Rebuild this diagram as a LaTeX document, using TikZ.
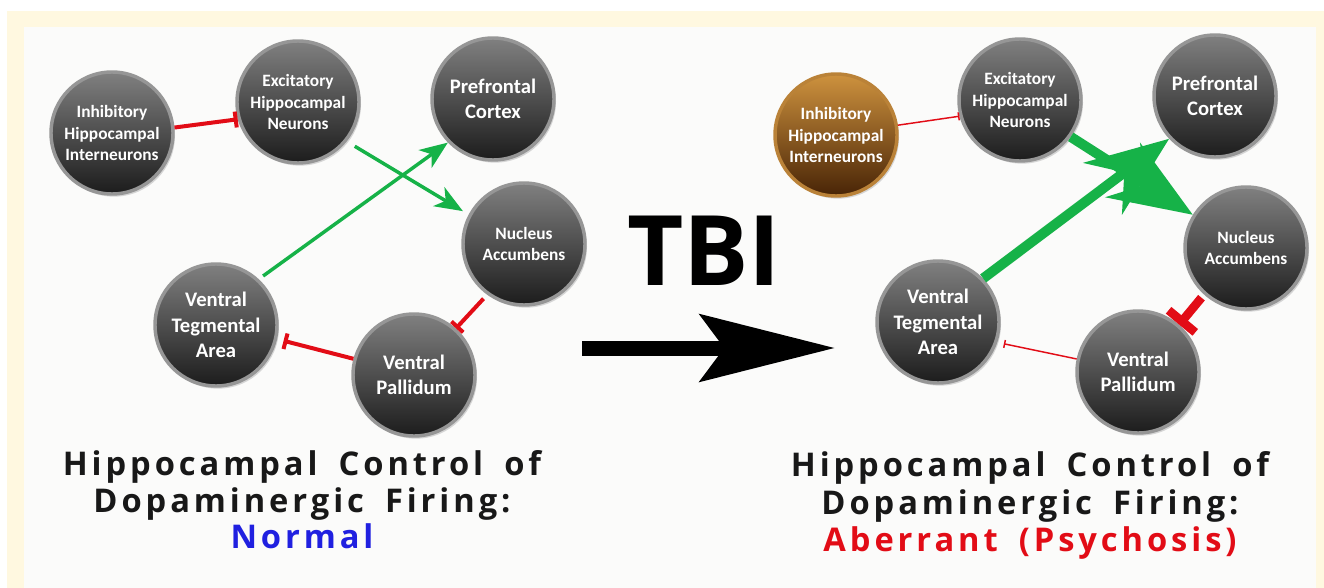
\documentclass[tikz,border=0pt]{standalone}
\usepackage{fontspec}
\setmainfont{Carlito}
\newfontfamily\headfont[LetterSpace=12,WordSpace=1.7]{Open Sans}
\newfontfamily\tbifont{Open Sans}
\usetikzlibrary{arrows.meta,shadows}

\definecolor{frameyellow}{RGB}{255,248,224}
\definecolor{panelgray}{RGB}{251,251,250}
\definecolor{ringgray}{RGB}{150,150,150}
\definecolor{ballhi}{RGB}{128,128,128}
\definecolor{balllo}{RGB}{28,28,28}
\definecolor{brownhi}{RGB}{206,146,62}
\definecolor{brownlo}{RGB}{72,36,6}
\definecolor{brownring}{RGB}{186,130,56}
\definecolor{exgreen}{RGB}{22,178,72}
\definecolor{inred}{RGB}{226,12,22}
\definecolor{normblue}{RGB}{32,32,224}
\definecolor{titleblack}{RGB}{24,24,24}

\tikzset{every picture/.style={line width=0.75pt}}
\tikzset{
  region/.style={circle, minimum size=91.5pt, inner sep=0pt, draw=ringgray, line width=2.6pt,
    top color=ballhi, bottom color=balllo,
    drop shadow={shadow xshift=1.5pt, shadow yshift=-2pt, opacity=0.3},
    text=white, align=center, font=\bfseries\fontsize{15.5}{19}\selectfont},
  regionsm/.style={region, font=\bfseries\fontsize{13}{16}\selectfont},
  brownregion/.style={regionsm, draw=brownring, top color=brownhi, bottom color=brownlo},
  excit/.style={exgreen, line width=2.6pt, -{Stealth[length=21pt,width=16.5pt,inset=6pt]}},
  excitbig/.style={exgreen, line width=7.5pt, -{Stealth[length=62pt,width=48pt,inset=20pt]}},
  inhib/.style={inred, line width=3pt, -{Bar[width=12pt]}},
  inhibthin/.style={inred, line width=1.1pt, -{Bar[width=6pt]}},
  inhibbig/.style={inred, line width=6.5pt, -{Bar[width=26pt]}},
  headline/.style={anchor=base, inner sep=0pt, text=titleblack, font=\headfont\bfseries\fontsize{24.5}{30}\selectfont}
}

\begin{document}
\begin{tikzpicture}[x=0.75pt,y=0.75pt,yscale=-1,xscale=1]
\useasboundingbox (0,0) rectangle (1324,588);

%Frame and panel
\fill[frameyellow] (7,11) rectangle (1324,588);
\fill[panelgray] (24,27) rectangle (1316,588);

%Normal circuit
\node[regionsm] (inhL) at (112,133) {Inhibitory\\Hippocampal\\Interneurons};
\node[regionsm] (excL) at (298,102) {Excitatory\\Hippocampal\\Neurons};
\node[region] (pfcL) at (493,99) {Prefrontal\\Cortex};
\node[regionsm] (nacL) at (524,244) {Nucleus\\Accumbens};
\node[region] (vtaL) at (216,325) {Ventral\\Tegmental\\Area};
\node[region] (vpL) at (414,375) {Ventral\\Pallidum};

\draw[inhib] (inhL.5) -- (excL.196);
\draw[excit, shorten <=7pt, shorten >=5pt] (excL.-39) -- (nacL.152);
\draw[excit, shorten <=4pt] (vtaL.47) -- (pfcL.224);
\draw[inhib, shorten <=4pt] (nacL.234) -- (vpL.48);
\draw[inhib, shorten >=5pt] (vpL.165) -- (vtaL.-13);

%Aberrant circuit
\node[brownregion] (inhR) at (836,135) {Inhibitory\\Hippocampal\\Interneurons};
\node[regionsm] (excR) at (1020,100) {Excitatory\\Hippocampal\\Neurons};
\node[region] (pfcR) at (1215,96) {Prefrontal\\Cortex};
\node[regionsm] (nacR) at (1246,248) {Nucleus\\Accumbens};
\node[region] (vtaR) at (938,322) {Ventral\\Tegmental\\Area};
\node[region] (vpR) at (1138,372) {Ventral\\Pallidum};

\draw[inhibthin] (inhR.9) -- (excR.195);
\draw[excitbig] (excR.-36) -- (nacR.148);
\draw[excitbig] (vtaR.44) -- (pfcR.223);
\draw[inhibbig, shorten <=3pt] (nacR.228) -- (vpR.49);
\draw[inhibthin, shorten >=5pt] (vpR.168) -- (vtaR.-19);

%TBI arrow
\node[anchor=base, inner sep=0pt, font=\tbifont\bfseries\fontsize{73}{80}\selectfont] (tbi) at (704,285) {TBI};
\coordinate (tbiS) at (582,348);
\coordinate (tbiE) at (835,348);
\draw[line width=11.25pt, -{Stealth[length=101pt,width=50pt,inset=18pt]}] (tbiS) -- (tbiE);

%Titles
\node[headline] (ttlL1) at (302,475) {Hippocampal Control of};
\node[headline] (ttlL2) at (302,512) {Dopaminergic Firing:};
\node[headline, text=normblue] (ttlL3) at (302,548) {Normal};
\node[headline] (ttlR1) at (1030,476) {Hippocampal Control of};
\node[headline] (ttlR2) at (1030,514) {Dopaminergic Firing:};
\node[headline, text=inred] (ttlR3) at (1030,551) {Aberrant (Psychosis)};

\end{tikzpicture}
\end{document}
